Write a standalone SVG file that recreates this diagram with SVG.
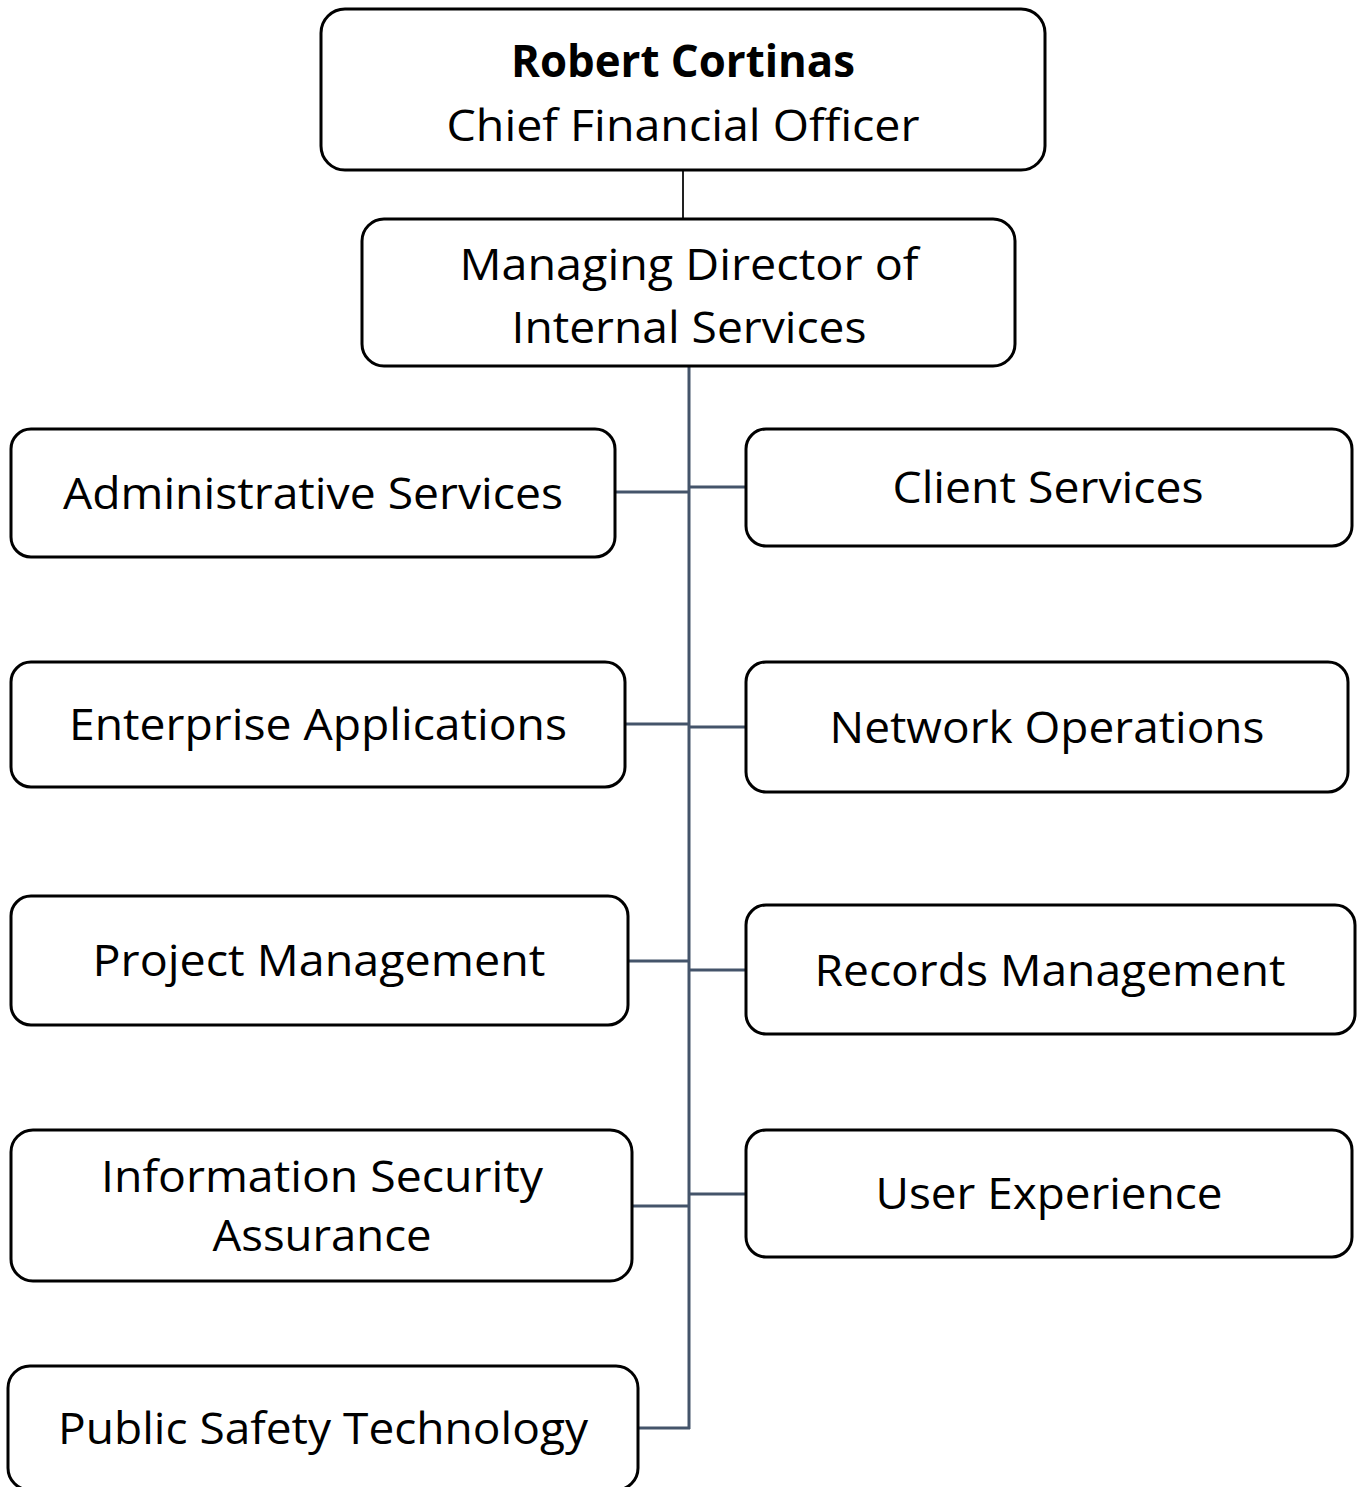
<svg xmlns="http://www.w3.org/2000/svg" width="1357" height="1487" viewBox="0 0 1357 1487">
<style>
.box{fill:#fff;stroke:#000;stroke-width:3}
.t{font-family:"Open Sans","Noto Sans",sans-serif;font-size:44px;fill:#000}
.b{font-weight:bold}
.c{fill:none;stroke:#44546A;stroke-width:3}
.ct{fill:none;stroke:#222;stroke-width:2}
</style>
<rect width="1357" height="1487" fill="#fff"/>
<g id="connectors">
<line class="ct" x1="683" y1="170" x2="683" y2="219"/>
<line class="c" x1="689" y1="366" x2="689" y2="1429"/>
<line class="c" x1="615" y1="492" x2="689" y2="492"/>
<line class="c" x1="689" y1="487" x2="746" y2="487"/>
<line class="c" x1="625" y1="724" x2="689" y2="724"/>
<line class="c" x1="689" y1="727" x2="746" y2="727"/>
<line class="c" x1="628" y1="961" x2="689" y2="961"/>
<line class="c" x1="689" y1="970" x2="746" y2="970"/>
<line class="c" x1="632" y1="1206" x2="689" y2="1206"/>
<line class="c" x1="689" y1="1194" x2="746" y2="1194"/>
<line class="c" x1="638" y1="1428" x2="690" y2="1428"/>
</g>
<g id="cfo">
<rect class="box" x="321" y="9" width="724" height="161" rx="24"/>
<text class="t b" x="683" y="77" text-anchor="middle" textLength="344" lengthAdjust="spacingAndGlyphs">Robert Cortinas</text>
<text class="t" x="683" y="141" text-anchor="middle" textLength="473" lengthAdjust="spacingAndGlyphs">Chief Financial Officer</text>
</g>
<g id="md">
<rect class="box" x="362" y="219" width="653" height="147" rx="22"/>
<text class="t" x="689" y="280" text-anchor="middle" textLength="459" lengthAdjust="spacingAndGlyphs">Managing Director of</text>
<text class="t" x="689" y="343" text-anchor="middle" textLength="355" lengthAdjust="spacingAndGlyphs">Internal Services</text>
</g>
<g id="admin">
<rect class="box" x="11" y="429" width="604" height="128" rx="20"/>
<text class="t" x="313" y="509" text-anchor="middle" textLength="500" lengthAdjust="spacingAndGlyphs">Administrative Services</text>
</g>
<g id="client">
<rect class="box" x="746" y="429" width="606" height="117" rx="20"/>
<text class="t" x="1048" y="503" text-anchor="middle" textLength="311" lengthAdjust="spacingAndGlyphs">Client Services</text>
</g>
<g id="enterprise">
<rect class="box" x="11" y="662" width="614" height="125" rx="20"/>
<text class="t" x="318" y="740" text-anchor="middle" textLength="498" lengthAdjust="spacingAndGlyphs">Enterprise Applications</text>
</g>
<g id="network">
<rect class="box" x="746" y="662" width="602" height="130" rx="20"/>
<text class="t" x="1047" y="743" text-anchor="middle" textLength="435" lengthAdjust="spacingAndGlyphs">Network Operations</text>
</g>
<g id="project">
<rect class="box" x="11" y="896" width="617" height="129" rx="20"/>
<text class="t" x="319" y="976" text-anchor="middle" textLength="453" lengthAdjust="spacingAndGlyphs">Project Management</text>
</g>
<g id="records">
<rect class="box" x="746" y="905" width="609" height="129" rx="20"/>
<text class="t" x="1050" y="986" text-anchor="middle" textLength="471" lengthAdjust="spacingAndGlyphs">Records Management</text>
</g>
<g id="infosec">
<rect class="box" x="11" y="1130" width="621" height="151" rx="22"/>
<text class="t" x="322" y="1192" text-anchor="middle" textLength="442" lengthAdjust="spacingAndGlyphs">Information Security</text>
<text class="t" x="322" y="1251" text-anchor="middle" textLength="219" lengthAdjust="spacingAndGlyphs">Assurance</text>
</g>
<g id="ux">
<rect class="box" x="746" y="1130" width="606" height="127" rx="20"/>
<text class="t" x="1049" y="1209" text-anchor="middle" textLength="347" lengthAdjust="spacingAndGlyphs">User Experience</text>
</g>
<g id="publicsafety">
<rect class="box" x="8" y="1366" width="630" height="124" rx="22"/>
<text class="t" x="323" y="1444" text-anchor="middle" textLength="530" lengthAdjust="spacingAndGlyphs">Public Safety Technology</text>
</g>
</svg>
